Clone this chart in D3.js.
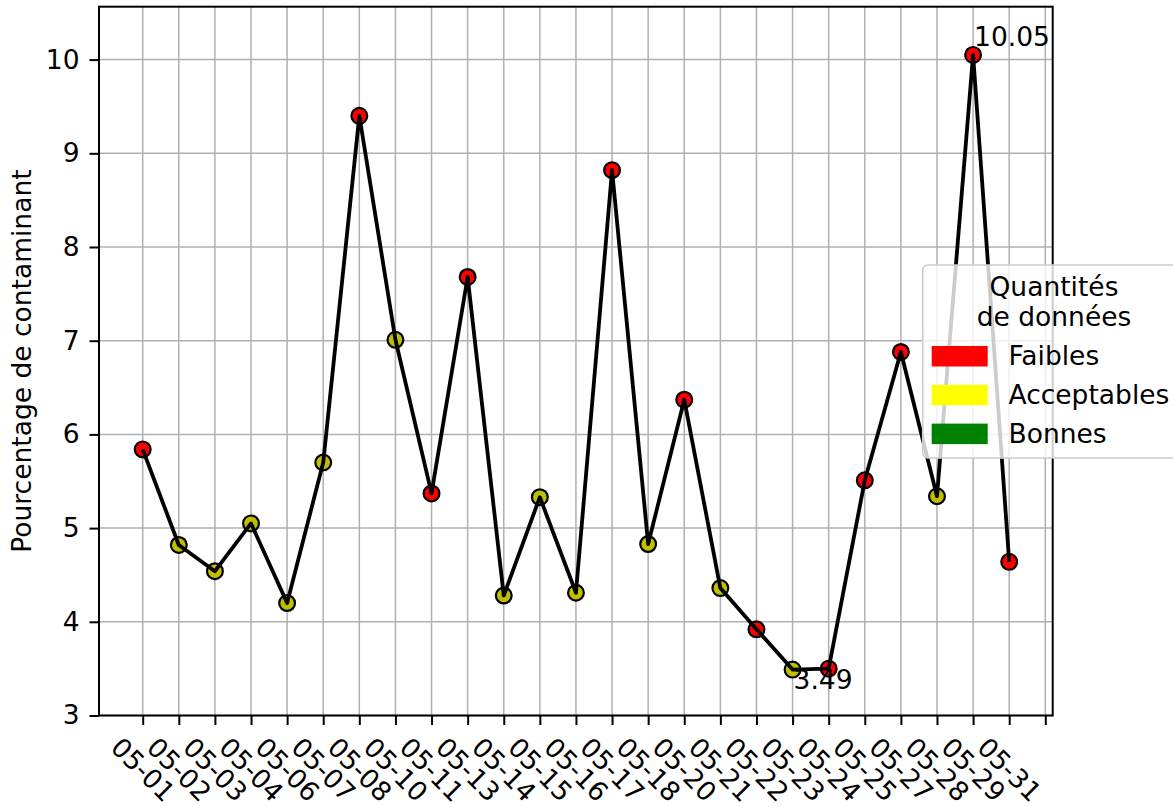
<!DOCTYPE html>
<html>
<head>
<meta charset="utf-8">
<script src="https://cdn.jsdelivr.net/npm/d3@7"></script>
<style>
  html, body { margin: 0; padding: 0; background: #fff; }
  svg { display: block; font-family: "DejaVu Sans", sans-serif; }
</style>
</head>
<body>
<svg id="chart" width="1173" height="807"></svg>
<script>
// ---- data ----
const categories = ["05-01","05-02","05-03","05-04","05-06","05-07","05-08","05-10","05-11","05-13",
  "05-14","05-15","05-16","05-17","05-18","05-20","05-21","05-22","05-23","05-24","05-25","05-27",
  "05-28","05-29","05-31"];
const values = [5.84, 4.82, 4.54, 5.05, 4.20, 5.70, 9.40, 7.01, 5.37, 7.68,
  4.28, 5.33, 4.31, 8.82, 4.83, 6.37, 4.36, 3.92, 3.49, 3.50, 5.51, 6.88,
  5.34, 10.05, 4.64];
const quality = ["Faibles","Acceptables","Acceptables","Acceptables","Acceptables","Acceptables","Faibles",
  "Acceptables","Faibles","Faibles","Acceptables","Acceptables","Acceptables","Faibles","Acceptables",
  "Faibles","Acceptables","Faibles","Acceptables","Faibles","Faibles","Faibles","Acceptables","Faibles","Faibles"];
const yTicks = [3, 4, 5, 6, 7, 8, 9, 10];
const legendLabels = ["Faibles", "Acceptables", "Bonnes"];
const legendColors = ["#ff0000", "#ffff00", "#008000"];
const markerColors = { "Faibles": "#ff0000", "Acceptables": "#bfbf00", "Bonnes": "#008000" };
const legendTitle = ["Quantités", "de données"];
const yLabel = "Pourcentage de contaminant";
const nTicks = categories.length + 1; // one extra, unlabeled tick at the right

// ---- layout ----
const L = 99, R = 1052.7, T = 6.7, B = 715.5;
const svg = d3.select("#chart");
svg.append("rect").attr("width", 1173).attr("height", 807).attr("fill", "#fff");

const step = (1045.3 - 142.7) / 25;
const x = d3.scaleLinear().domain([-(142.7 - L) / step, 25 + (R - 1045.3) / step]).range([L, R]);
const y = d3.scaleLinear().domain([3, 3 + (B - T) / 93.7]).range([B, T]);

const FS = 26.5;
const tickIdx = d3.range(nTicks);

// grid
const g = svg.append("g");
g.selectAll(".vg").data(tickIdx).join("line")
  .attr("x1", d => x(d)).attr("x2", d => x(d)).attr("y1", T).attr("y2", B)
  .attr("stroke", "#b0b0b0").attr("stroke-width", 1.5);
g.selectAll(".hg").data(yTicks).join("line")
  .attr("x1", L).attr("x2", R).attr("y1", d => y(d)).attr("y2", d => y(d))
  .attr("stroke", "#b0b0b0").attr("stroke-width", 1.5);

// line
const line = d3.line().x((d, i) => x(i)).y(d => y(d));

// markers (under the line)
svg.append("g").selectAll("circle").data(values).join("circle")
  .attr("cx", (d, i) => x(i)).attr("cy", d => y(d)).attr("r", 7.9)
  .attr("fill", (d, i) => markerColors[quality[i]])
  .attr("stroke", "#000").attr("stroke-width", 2.2);

svg.append("path").datum(values).attr("d", line)
  .attr("fill", "none").attr("stroke", "#000").attr("stroke-width", 3.8)
  .attr("stroke-linejoin", "round");

// annotations for max & min
const maxI = d3.maxIndex(values), minI = d3.minIndex(values);
svg.append("text").attr("x", x(maxI) + 1).attr("y", y(values[maxI]) - 9)
  .attr("font-size", FS).attr("fill", "#000").text(values[maxI].toFixed(2));
svg.append("text").attr("x", x(minI) + 1).attr("y", y(values[minI]) + 19.5)
  .attr("font-size", FS).attr("fill", "#000").text(values[minI].toFixed(2));

// axes (spines)
svg.append("rect").attr("x", L).attr("y", T).attr("width", R - L).attr("height", B - T)
  .attr("fill", "none").attr("stroke", "#000").attr("stroke-width", 2);

// x axis
const xAxis = d3.axisBottom(x).tickValues(tickIdx).tickSize(9.5).tickPadding(0)
  .tickFormat(i => categories[i] || "");
const xa = svg.append("g").attr("transform", `translate(0,${B})`).call(xAxis);
xa.select(".domain").remove();
xa.selectAll(".tick line").attr("stroke", "#000").attr("stroke-width", 2);
xa.selectAll(".tick text")
  .attr("font-size", FS).attr("font-family", "DejaVu Sans, sans-serif").attr("fill", "#000")
  .attr("text-anchor", "middle").attr("dominant-baseline", "central")
  .attr("y", 0).attr("dy", 0)
  .attr("transform", "translate(0,54) rotate(45)");

// y axis
const yAxis = d3.axisLeft(y).tickValues(yTicks).tickSize(9.5).tickPadding(10);
const ya = svg.append("g").attr("transform", `translate(${L},0)`).call(yAxis);
ya.select(".domain").remove();
ya.selectAll(".tick line").attr("stroke", "#000").attr("stroke-width", 2);
ya.selectAll(".tick text").attr("font-size", FS).attr("font-family", "DejaVu Sans, sans-serif")
  .attr("fill", "#000");

// y label
svg.append("text").attr("transform", `translate(31,${(T + B) / 2}) rotate(-90)`)
  .attr("text-anchor", "middle").attr("font-size", FS).attr("fill", "#000").text(yLabel);

// legend
const lg = svg.append("g");
lg.append("rect").attr("x", 922.7).attr("y", 265).attr("width", 262.6).attr("height", 193)
  .attr("rx", 5).attr("fill", "#fff").attr("fill-opacity", 0.8)
  .attr("stroke", "#cccccc").attr("stroke-width", 1.6);
lg.selectAll(".lt").data(legendTitle).join("text")
  .attr("x", 1054).attr("y", (d, i) => 296 + i * 29.5)
  .attr("text-anchor", "middle").attr("font-size", FS).attr("fill", "#000").text(d => d);
const items = lg.selectAll(".li").data(legendLabels).join("g")
  .attr("transform", (d, i) => `translate(0,${346 + i * 38.8})`);
items.append("rect").attr("x", 931.7).attr("y", 0).attr("width", 56).attr("height", 20.5)
  .attr("fill", (d, i) => legendColors[i]);
items.append("text").attr("x", 1008.5).attr("y", 19).attr("font-size", FS).attr("fill", "#000")
  .text(d => d);
</script>
</body>
</html>
